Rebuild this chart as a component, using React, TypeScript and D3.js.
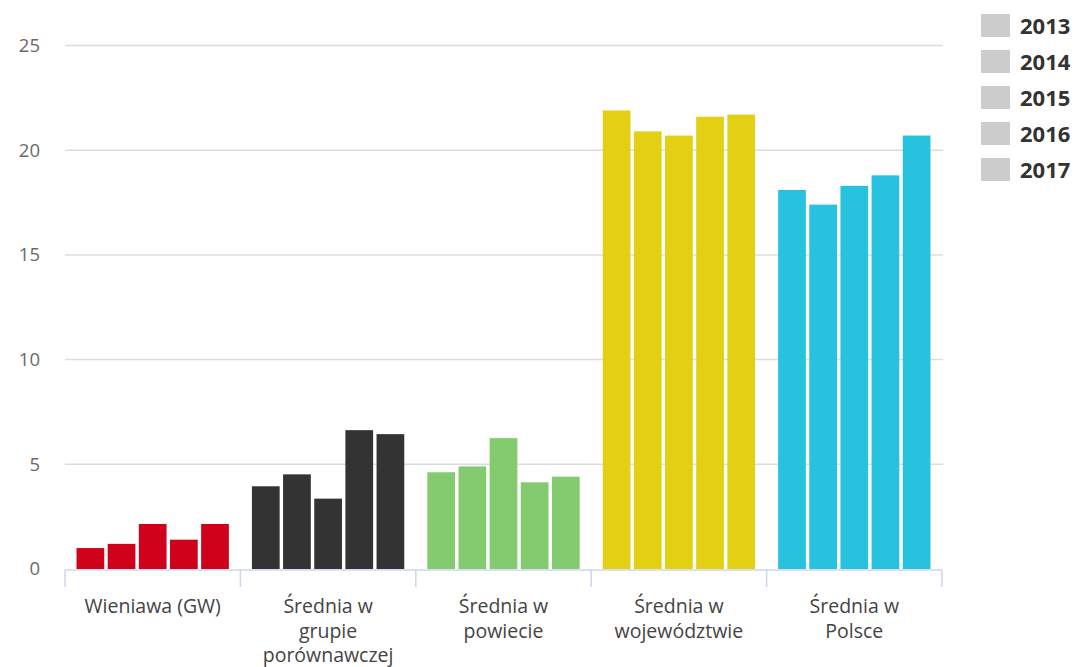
import React from "react";
import * as d3 from "d3";

const categories = ["Wieniawa (GW)", "Średnia w grupie porównawczej", "Średnia w powiecie", "Średnia w województwie", "Średnia w Polsce"];
const categoryLines = [["Wieniawa (GW)"], ["Średnia w", "grupie", "porównawczej"], ["Średnia w", "powiecie"], ["Średnia w", "województwie"], ["Średnia w", "Polsce"]];
const years = ["2013", "2014", "2015", "2016", "2017"];
const wieniawa = [1.0, 1.2, 2.15, 1.4, 2.15];
const grupa = [3.95, 4.52, 3.36, 6.63, 6.44];
const powiat = [4.62, 4.9, 6.25, 4.14, 4.41];
const wojewodztwo = [21.9, 20.9, 20.7, 21.6, 21.7];
const polska = [18.1, 17.4, 18.3, 18.8, 20.7];
const seriesValues = [wieniawa, grupa, powiat, wojewodztwo, polska];
const groupColors = ["#d0021b", "#333333", "#83cb6e", "#e3cf14", "#27c3de"];
const yTicks = [0, 5, 10, 15, 20, 25];

const W = 1082, H = 667;
const left = 65, right = 942, top = 45.5, bottom = 569;

export default function App() {
  const x = d3.scaleBand<string>().domain(categories).range([left, right]).paddingInner(0).paddingOuter(0);
  const inner = d3.scaleBand<string>().domain(years).range([0, x.bandwidth()]).paddingInner(0.11).paddingOuter(0.37);
  const y = d3.scaleLinear().domain([0, 25]).range([bottom, top]);
  const font = "'Open Sans', sans-serif";
  const boundaries = categories.map((c) => x(c) as number).concat([right]);
  return (
    <svg width={W} height={H} style={{ position: "absolute", left: 0, top: 0, background: "#fff" }}>
      {yTicks.filter((t) => t > 0).map((t) => (
        <line key={"g" + t} x1={left} x2={right + 1} y1={y(t)} y2={y(t)} stroke="#dcdcdc" strokeWidth={1.5} />
      ))}
      {yTicks.map((t) => (
        <text key={"t" + t} x={40} y={y(t)} dy="0.35em" textAnchor="end" fontFamily={font} fontSize={18.5} fill="#6a6a6a">{t}</text>
      ))}
      {categories.map((c, ci) =>
        years.map((yr, yi) => {
          const v = seriesValues[ci][yi];
          const bx = (x(c) as number) + (inner(yr) as number);
          return <rect key={c + yr} x={bx} y={y(v)} width={inner.bandwidth()} height={y(0) - y(v)} fill={groupColors[ci]} />;
        })
      )}
      <line x1={left} x2={right} y1={bottom + 1} y2={bottom + 1} stroke="#ccd6eb" strokeWidth={1.5} />
      {boundaries.map((b, i) => (
        <line key={"tk" + i} x1={b} x2={b} y1={bottom + 1} y2={bottom + 18} stroke="#ccd6eb" strokeWidth={1.5} />
      ))}
      {categories.map((c, ci) => (
        <text key={"cl" + c} textAnchor="middle" fontFamily={font} fontSize={19.5} fill="#444">
          {categoryLines[ci].map((ln, li) => (
            <tspan key={li} x={(x(c) as number) + x.bandwidth() / 2} y={613 + li * 24.5}>{ln}</tspan>
          ))}
        </text>
      ))}
      {years.map((yr, i) => (
        <g key={"lg" + yr} transform={`translate(981, ${14 + i * 36})`}>
          <rect x={0} y={0} width={29} height={23} fill="#cccccc" />
          <text x={39} y={12} dy="0.35em" fontFamily={font} fontWeight="bold" fontSize={22} fill="#333">{yr}</text>
        </g>
      ))}
    </svg>
  );
}
